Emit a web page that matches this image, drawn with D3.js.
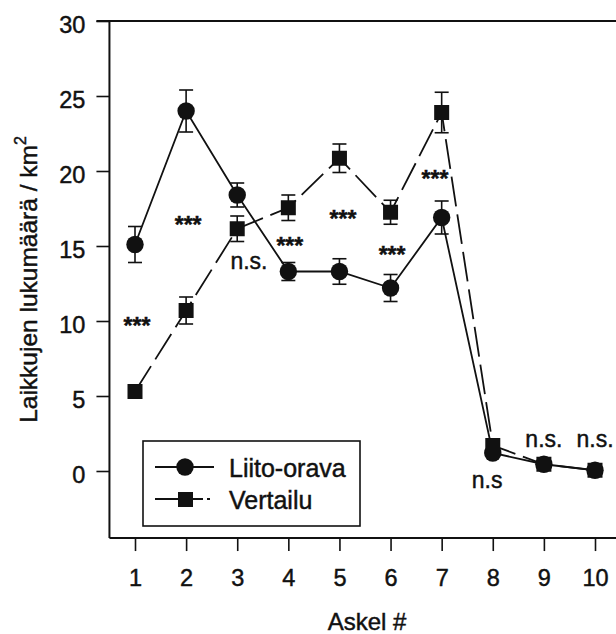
<!DOCTYPE html>
<html>
<head>
<meta charset="utf-8">
<script src="https://cdn.jsdelivr.net/npm/d3@7"></script>
<style>
  html, body { margin: 0; padding: 0; background: #fff; }
  svg { display: block; font-family: "Liberation Sans", Arial, Helvetica, sans-serif; }
  svg text { stroke: #111; stroke-width: 0.45px; }
</style>
</head>
<body>
<svg id="chart" width="616" height="634"></svg>
<script>
// ---- data ----
const steps = [1, 2, 3, 4, 5, 6, 7, 8, 9, 10];
const liito = [15.1, 24.0, 18.4, 13.3, 13.3, 12.2, 16.9, 1.2, 0.45, 0.05];
const liitoErr = [1.2, 1.4, 0.8, 0.6, 0.85, 0.9, 1.1, 0, 0, 0];
const vertailu = [5.3, 10.7, 16.15, 17.55, 20.85, 17.25, 23.9, 1.7, 0.45, 0.05];
const vertailuErr = [0, 0.9, 0.85, 0.85, 0.95, 0.8, 1.35, 0, 0, 0];
const yTicks = [0, 5, 10, 15, 20, 25, 30];
const seriesNames = ["Liito-orava", "Vertailu"];
const sigLabels = ["***", "***", "n.s.", "***", "***", "***", "***", "n.s", "n.s.", "n.s."];
const sigStep = [1.04, 2.04, 3.23, 4.03, 5.07, 6.03, 6.87, 7.89, 9.0, 10.0];
const sigValue = [10.07, 16.8, 13.47, 15.4, 17.2, 14.8, 19.87, -1.13, 1.6, 1.6];
const xTitle = "Askel #";
const yTitle = "Laikkujen lukumäärä / km";

// ---- setup ----
const svg = d3.select("#chart");
const x = d3.scaleLinear().domain([1, 10]).range([135, 595]);
const y = d3.scaleLinear().domain([0, 30]).range([471, 21]);
const xLeft = x(0.5), xRight = 640;
const yBottom = y(-4.47), yTop = y(30);

// frame
svg.append("line").attr("x1", xLeft - 13).attr("x2", xRight).attr("y1", yTop).attr("y2", yTop)
  .attr("stroke", "#111").attr("stroke-width", 2);
svg.append("line").attr("x1", xLeft).attr("x2", xLeft).attr("y1", yTop).attr("y2", yBottom)
  .attr("stroke", "#111").attr("stroke-width", 2);

// y axis
const yAxis = d3.axisLeft(y).tickValues(yTicks).tickSize(13).tickPadding(11);
const gy = svg.append("g").attr("transform", `translate(${xLeft},0)`).call(yAxis);
gy.select(".domain").remove();
gy.selectAll(".tick line").attr("stroke", "#111").attr("stroke-width", 1.6);
gy.selectAll(".tick text").attr("font-size", 23.5).attr("fill", "#111")
  .attr("font-family", "'Liberation Sans', Arial, sans-serif").attr("dy", "0.47em");

// x axis
const xAxis = d3.axisBottom(x).tickValues(steps).tickSize(13).tickPadding(18);
const gx = svg.append("g").attr("transform", `translate(0,${yBottom})`).call(xAxis);
gx.select(".domain").remove();
gx.append("line").attr("x1", xLeft).attr("x2", xRight).attr("y1", 0).attr("y2", 0)
  .attr("stroke", "#111").attr("stroke-width", 2);
gx.selectAll(".tick line").attr("stroke", "#111").attr("stroke-width", 1.6);
gx.selectAll(".tick text").attr("font-size", 23.5).attr("fill", "#111")
  .attr("font-family", "'Liberation Sans', Arial, sans-serif").attr("dy", "0.71em");

// axis titles
svg.append("text").attr("x", 367).attr("y", 630).attr("text-anchor", "middle")
  .attr("font-size", 24).attr("fill", "#111").text(xTitle);
const yt = svg.append("text").attr("transform", `translate(37,${(132 + 427) / 2}) rotate(-90)`)
  .attr("text-anchor", "middle").attr("font-size", 24.5).attr("fill", "#111");
yt.append("tspan").text(yTitle);
yt.append("tspan").attr("font-size", 16).attr("dy", -11).text("2");

// ---- series ----
const liitoData = steps.map((s, i) => ({ s, v: liito[i], e: liitoErr[i] }));
const vertData = steps.map((s, i) => ({ s, v: vertailu[i], e: vertailuErr[i] }));
const line = d3.line().x(d => x(d.s)).y(d => y(d.v));

svg.append("path").datum(vertData).attr("d", line).attr("fill", "none")
  .attr("stroke", "#111").attr("stroke-width", 1.8).attr("stroke-dasharray", "30,8");
svg.append("path").datum(liitoData).attr("d", line).attr("fill", "none")
  .attr("stroke", "#111").attr("stroke-width", 1.8);

function errorBars(data) {
  const g = svg.append("g").attr("stroke", "#111").attr("stroke-width", 1.6);
  data.filter(d => d.e > 0).forEach(d => {
    const cx = x(d.s);
    g.append("line").attr("x1", cx).attr("x2", cx).attr("y1", y(d.v - d.e)).attr("y2", y(d.v + d.e));
    g.append("line").attr("x1", cx - 7).attr("x2", cx + 7).attr("y1", y(d.v + d.e)).attr("y2", y(d.v + d.e));
    g.append("line").attr("x1", cx - 7).attr("x2", cx + 7).attr("y1", y(d.v - d.e)).attr("y2", y(d.v - d.e));
  });
}
errorBars(liitoData);
errorBars(vertData);

svg.append("g").selectAll("circle").data(liitoData).join("circle")
  .attr("cx", d => x(d.s)).attr("cy", d => y(d.v)).attr("r", 8.7).attr("fill", "#111");
svg.append("g").selectAll("rect").data(vertData).join("rect")
  .attr("x", d => x(d.s) - 7.5).attr("y", d => y(d.v) - 7.5)
  .attr("width", 15).attr("height", 15).attr("fill", "#111");

// ---- significance labels ----
svg.append("g").selectAll("text").data(sigLabels).join("text")
  .attr("x", (d, i) => x(sigStep[i]))
  .attr("y", (d, i) => y(sigValue[i]) + (d === "***" ? 14 : 0))
  .attr("text-anchor", "middle")
  .attr("font-size", d => d === "***" ? 23 : 23)
  .attr("font-weight", d => d === "***" ? "bold" : "normal")
  .attr("fill", "#111")
  .text(d => d);

// ---- legend ----
const lg = svg.append("g");
lg.append("rect").attr("x", 143).attr("y", 441).attr("width", 217).attr("height", 85)
  .attr("fill", "#fff").attr("stroke", "#111").attr("stroke-width", 1.6);
lg.append("line").attr("x1", 155).attr("x2", 214).attr("y1", 467).attr("y2", 467)
  .attr("stroke", "#111").attr("stroke-width", 1.8);
lg.append("circle").attr("cx", 185).attr("cy", 467).attr("r", 8.7).attr("fill", "#111");
lg.append("line").attr("x1", 155).attr("x2", 214).attr("y1", 499).attr("y2", 499)
  .attr("stroke", "#111").attr("stroke-width", 1.8).attr("stroke-dasharray", "48,4,3,10");
lg.append("rect").attr("x", 178).attr("y", 492).attr("width", 15).attr("height", 15).attr("fill", "#111");
lg.append("text").attr("x", 229).attr("y", 477).attr("font-size", 25).attr("fill", "#111").text(seriesNames[0]);
lg.append("text").attr("x", 229).attr("y", 509).attr("font-size", 25).attr("fill", "#111").text(seriesNames[1]);
</script>
</body>
</html>
